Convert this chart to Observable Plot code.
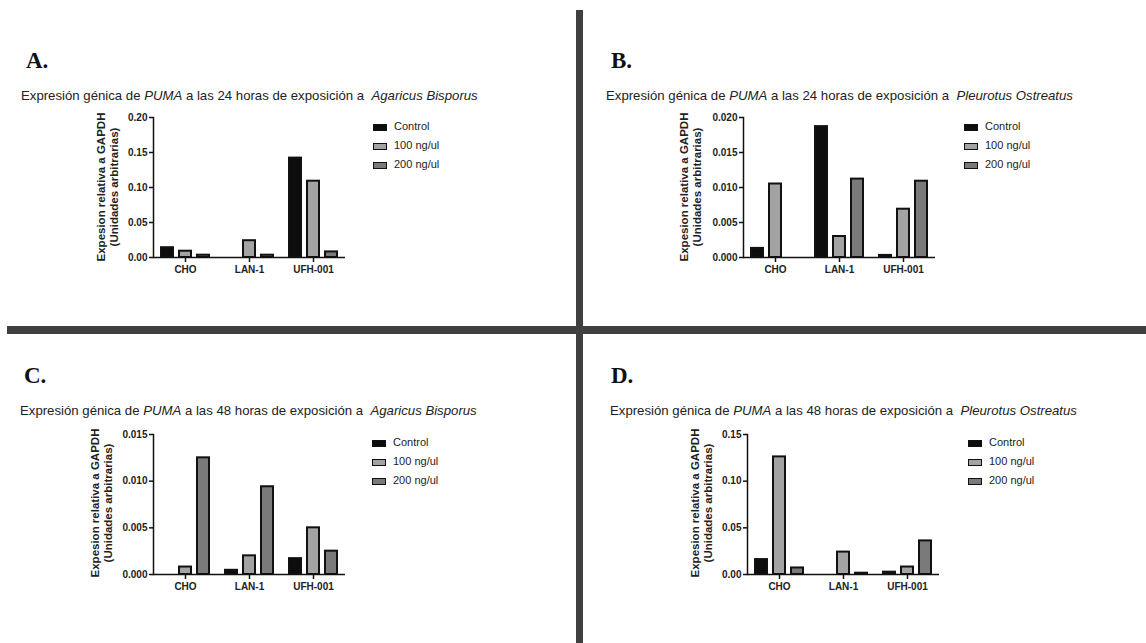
<!DOCTYPE html>
<html>
<head>
<meta charset="utf-8">
<script src="https://cdn.jsdelivr.net/npm/d3@7"></script>
<script src="https://cdn.jsdelivr.net/npm/@observablehq/plot@0.6"></script>
<style>
  html, body { margin: 0; padding: 0; background: #fff; }
  #page { position: relative; width: 1146px; height: 643px; overflow: hidden; background: #fff;
          font-family: "Liberation Sans", Arial, sans-serif; color: #222; }
  .abs { position: absolute; }
  .plabel { font-family: "Liberation Serif", "Times New Roman", serif; font-weight: bold; font-size: 23px; line-height: 1; color: #111; }
  .ptitle { font-size: 13.2px; line-height: 1; white-space: nowrap; color: #222; }
  .ylab { font-size: 11.5px; font-weight: bold; line-height: 13px; text-align: center; white-space: nowrap;
          transform: translate(-50%, -50%) rotate(-90deg); color: #222; }
  .leg { font-size: 11px; line-height: 1; white-space: nowrap; color: #222; }
  .sw { position: absolute; width: 14px; height: 7px; box-sizing: border-box; border: 1.5px solid #111; }
  .divider { background: #404040; }
</style>
</head>
<body>
<div id="page"></div>
<script>
// ---- data ----
const categories = ["CHO", "LAN-1", "UFH-001"];
const series = ["Control", "100 ng/ul", "200 ng/ul"];
const seriesColors = ["#0d0d0d", "#a3a3a3", "#7a7a7a"];

// Panel A: 24 h, Agaricus Bisporus
const aControl = [0.014, 0, 0.142];
const a100 = [0.009, 0.024, 0.109];
const a200 = [0.0033, 0.0033, 0.008];
const aTicks = [0, 0.05, 0.10, 0.15, 0.20];

// Panel B: 24 h, Pleurotus Ostreatus
const bControl = [0.0013, 0.0187, 0.0003];
const b100 = [0.0105, 0.003, 0.0069];
const b200 = [0, 0.0112, 0.0109];
const bTicks = [0, 0.005, 0.010, 0.015, 0.020];

// Panel C: 48 h, Agaricus Bisporus
const cControl = [0, 0.00045, 0.0017];
const c100 = [0.0008, 0.002, 0.005];
const c200 = [0.0125, 0.0094, 0.0025];
const cTicks = [0, 0.005, 0.010, 0.015];

// Panel D: 48 h, Pleurotus Ostreatus
const dControl = [0.016, 0, 0.0025];
const d100 = [0.126, 0.024, 0.008];
const d200 = [0.007, 0.0014, 0.036];
const dTicks = [0, 0.05, 0.10, 0.15];

const yLabelLines = ["Expesion relativa a GAPDH", "(Unidades arbitrarias)"];
const panelLetters = ["A.", "B.", "C.", "D."];
const hours = ["24", "24", "48", "48"];
const species = ["Agaricus Bisporus", "Pleurotus Ostreatus", "Agaricus Bisporus", "Pleurotus Ostreatus"];

function rows(ctrl, v100, v200) {
  const out = [];
  const vals = [ctrl, v100, v200];
  categories.forEach((c, i) => series.forEach((s, j) => out.push({cat: c, series: s, value: vals[j][i]})));
  return out;
}

const page = document.getElementById("page");
function add(cls, css, html) {
  const d = document.createElement("div");
  d.className = "abs " + cls;
  Object.assign(d.style, css);
  if (html != null) d.innerHTML = html;
  page.appendChild(d);
  return d;
}

// dividers
add("divider", {left: "576px", top: "10px", width: "7px", height: "633px"});
add("divider", {left: "7px", top: "326px", width: "1139px", height: "8px"});

const panels = [
  {data: rows(aControl, a100, a200), ticks: aTicks, fmt: ".2f", fx: 153, fy: 117, lx: 26, ly: 49, tx: 21, ty: 89, ylx: 108, yly: 187, legx: 373, legy: 127},
  {data: rows(bControl, b100, b200), ticks: bTicks, fmt: ".3f", fx: 743, fy: 117, lx: 611, ly: 49, tx: 606, ty: 89, ylx: 691, yly: 187, legx: 964, legy: 127},
  {data: rows(cControl, c100, c200), ticks: cTicks, fmt: ".3f", fx: 153, fy: 434, lx: 24, ly: 364, tx: 20, ty: 404, ylx: 102, yly: 503, legx: 372, legy: 443},
  {data: rows(dControl, d100, d200), ticks: dTicks, fmt: ".2f", fx: 747, fy: 434, lx: 611, ly: 364, tx: 610, ty: 404, ylx: 702, yly: 503, legx: 968, legy: 443}
];

const W = 192, H = 140, mL = 45, mR = 8, mT = 8, mB = 28;

panels.forEach((p, k) => {
  add("plabel", {left: p.lx + "px", top: p.ly + "px"}, panelLetters[k]);
  add("ptitle", {left: p.tx + "px", top: p.ty + "px"},
    `Expresión génica de <i>PUMA</i> a las ${hours[k]} horas de exposición a&nbsp; <i>${species[k]}</i>`);
  add("ylab", {left: p.ylx + "px", top: p.yly + "px"}, yLabelLines.join("<br>"));

  series.forEach((s, j) => {
    const y = p.legy + j * 19;
    add("sw", {left: p.legx + "px", top: (y - 3.5) + "px", background: seriesColors[j]});
    add("leg", {left: (p.legx + 21) + "px", top: (y - 6) + "px"}, s);
  });

  const chart = Plot.plot({
    width: mL + W + mR,
    height: mT + H + mB,
    marginLeft: mL, marginRight: mR, marginTop: mT, marginBottom: mB,
    style: {fontFamily: "'Liberation Sans', Arial, sans-serif", fontSize: "10px", fontWeight: "bold", color: "#222", background: "transparent", overflow: "visible"},
    fx: {domain: categories, padding: 0, label: null},
    x: {domain: series, axis: null, paddingInner: 0.333, paddingOuter: 0.444},
    y: {domain: [0, p.ticks[p.ticks.length - 1]], label: null},
    color: {domain: series, range: seriesColors},
    marks: [
      Plot.barY(p.data, {fx: "cat", x: "series", y: "value", fill: "series", stroke: "#111", strokeWidth: 2}),
      Plot.ruleY([0], {stroke: "#111", strokeWidth: 1.5}),
      Plot.frame({anchor: "left", facetAnchor: "left", stroke: "#111", strokeWidth: 1.5}),
      Plot.axisY({ticks: p.ticks, tickFormat: d3.format(p.fmt), tickSize: 4, tickPadding: 2, label: null, strokeWidth: 1.5, stroke: "#111"}),
      Plot.axisFx({anchor: "bottom", tickSize: 5, tickPadding: 3, label: null, strokeWidth: 1.5, stroke: "#111"})
    ]
  });
  chart.style.position = "absolute";
  chart.style.left = (p.fx - mL) + "px";
  chart.style.top = (p.fy - mT) + "px";
  page.appendChild(chart);
});
</script>
</body>
</html>
